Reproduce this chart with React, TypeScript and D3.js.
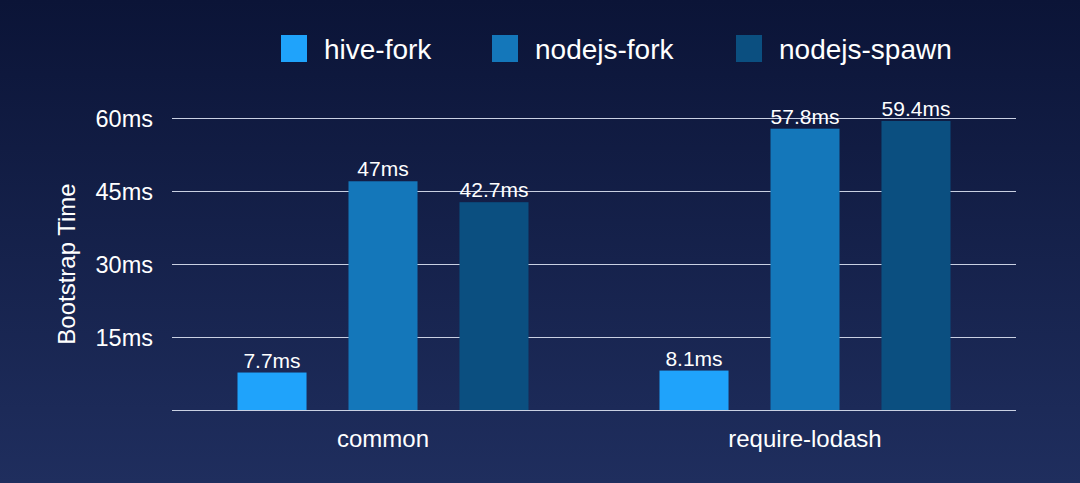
import React from "react";
import * as d3 from "d3";

const width = 1080;
const height = 483;

const categories = ["common", "require-lodash"];
const seriesNames = ["hive-fork", "nodejs-fork", "nodejs-spawn"];
const hiveFork = [7.7, 8.1];
const nodejsFork = [47, 57.8];
const nodejsSpawn = [42.7, 59.4];
const valueLabels = [
  ["7.7ms", "8.1ms"],
  ["47ms", "57.8ms"],
  ["42.7ms", "59.4ms"],
];
const yTicks = [15, 30, 45, 60];
const colors = ["#1fa3fb", "#1477ba", "#0b4f80"];

const margin = { left: 172, right: 64, top: 118, bottom: 73 };
const font = "'Liberation Sans', Arial, Helvetica, sans-serif";

export default function App() {
  const series = [hiveFork, nodejsFork, nodejsSpawn];

  const x0 = d3
    .scaleBand()
    .domain(categories)
    .range([margin.left, width - margin.right])
    .padding(0);

  const x1 = d3
    .scaleBand()
    .domain(seriesNames)
    .range([65.5, x0.bandwidth() - 65.5])
    .paddingInner(0.378)
    .paddingOuter(0);

  const y = d3
    .scaleLinear()
    .domain([0, 60])
    .range([height - margin.bottom, margin.top]);

  const legendX = [281, 492, 736];

  return (
    <svg
      width={width}
      height={height}
      style={{ position: "absolute", left: 0, top: 0, display: "block" }}
    >
      <defs>
        <linearGradient id="bg" x1="0" y1="0" x2="0" y2="1">
          <stop offset="0%" stopColor="#0b1437" />
          <stop offset="100%" stopColor="#1f2e5e" />
        </linearGradient>
      </defs>
      <rect width={width} height={height} fill="url(#bg)" />

      {/* legend */}
      {seriesNames.map((s, i) => (
        <g key={s} transform={`translate(${legendX[i]},35)`}>
          <rect width={26} height={27} fill={colors[i]} />
          <text x={43} y={24} fill="#ffffff" fontSize={28} fontFamily={font}>
            {s}
          </text>
        </g>
      ))}

      {/* grid */}
      {[0, ...yTicks].map((t) => (
        <line
          key={t}
          x1={margin.left}
          x2={width - margin.right}
          y1={Math.round(y(t)) + 0.5}
          y2={Math.round(y(t)) + 0.5}
          stroke="#c9d0e2"
          strokeWidth={1.2}
        />
      ))}
      {yTicks.map((t) => (
        <text
          key={t}
          x={153}
          y={y(t) + 8.5}
          textAnchor="end"
          fill="#ffffff"
          fontSize={23.5}
          fontFamily={font}
        >
          {t}ms
        </text>
      ))}
      <text
        transform={`translate(75,${y(30)}) rotate(-90)`}
        textAnchor="middle"
        fill="#ffffff"
        fontSize={24}
        fontFamily={font}
      >
        Bootstrap Time
      </text>

      {/* bars */}
      {series.map((vals, si) =>
        categories.map((c, ci) => {
          const bx = (x0(c) ?? 0) + (x1(seriesNames[si]) ?? 0);
          return (
            <g key={`${si}-${ci}`}>
              <rect
                x={bx}
                y={y(vals[ci])}
                width={x1.bandwidth()}
                height={y(0) - y(vals[ci])}
                fill={colors[si]}
              />
              <text
                x={bx + x1.bandwidth() / 2}
                y={y(vals[ci]) - 5}
                textAnchor="middle"
                fill="#ffffff"
                fontSize={21}
                fontFamily={font}
              >
                {valueLabels[si][ci]}
              </text>
            </g>
          );
        })
      )}

      {/* category labels */}
      {categories.map((c) => (
        <text
          key={c}
          x={(x0(c) ?? 0) + x0.bandwidth() / 2}
          y={447}
          textAnchor="middle"
          fill="#ffffff"
          fontSize={24}
          fontFamily={font}
        >
          {c}
        </text>
      ))}
    </svg>
  );
}
